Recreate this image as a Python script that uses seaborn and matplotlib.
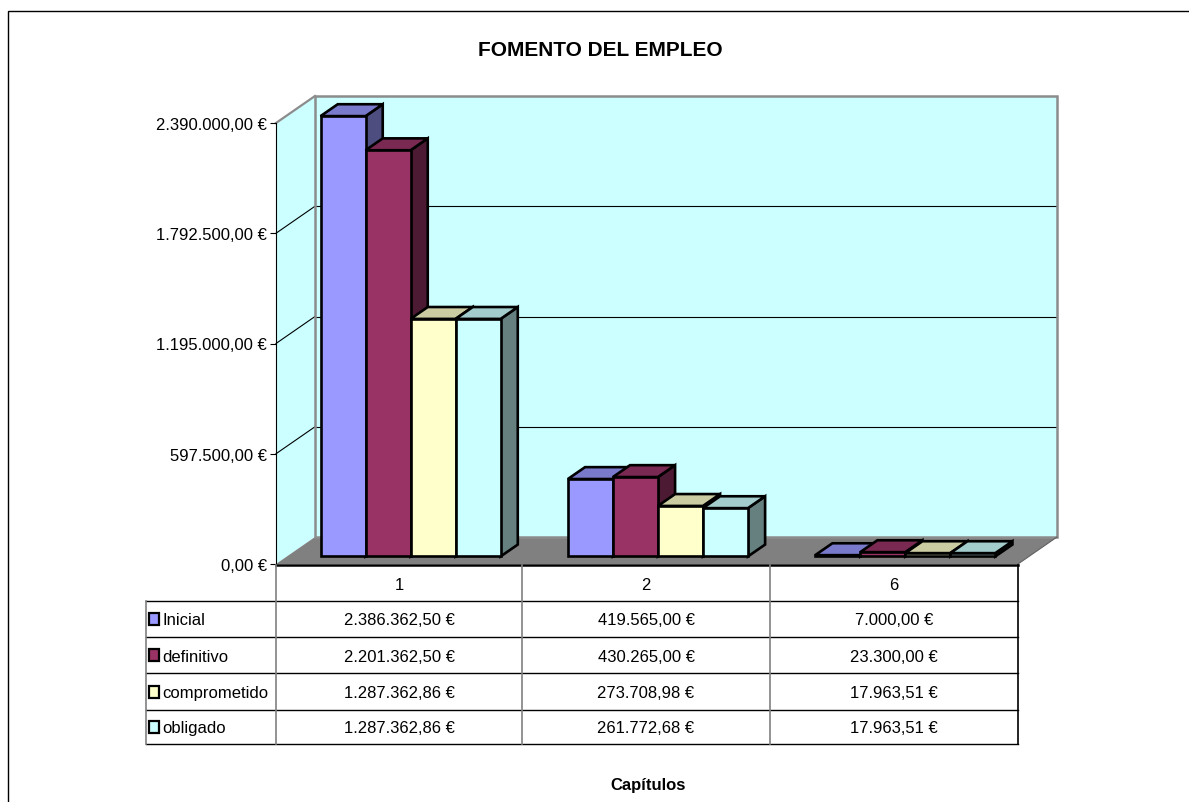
import numpy as np
import pandas as pd
import seaborn as sns
import matplotlib
matplotlib.use("Agg")
import matplotlib.pyplot as plt
from matplotlib import font_manager
from matplotlib.patches import Polygon, Rectangle
from matplotlib.lines import Line2D
from matplotlib.transforms import Affine2D, IdentityTransform

# --- data -------------------------------------------------------------
capitulos = ["1", "2", "6"]
series = ["Inicial", "definitivo", "comprometido", "obligado"]
inicial = [2386362.50, 419565.00, 7000.00]
definitivo = [2201362.50, 430265.00, 23300.00]
comprometido = [1287362.86, 273708.98, 17963.51]
obligado = [1287362.86, 261772.68, 17963.51]
y_ticks = [0, 597500, 1195000, 1792500, 2390000]
titulo = "FOMENTO DEL EMPLEO"
eje_x = "Capítulos"

colores = ["#9999FF", "#993366", "#FFFFCC", "#CCFFFF"]
valores = [inicial, definitivo, comprometido, obligado]


def euros(v):
    s = f"{v:,.2f}".replace(",", "X").replace(".", ",").replace("X", ".")
    return s + " €"


def shade(hex_color, f):
    r, g, b = matplotlib.colors.to_rgb(hex_color)
    return (r * f, g * f, b * f)


df = pd.DataFrame(
    [(c, s, v[i]) for s, v in zip(series, valores) for i, c in enumerate(capitulos)],
    columns=["capitulo", "serie", "importe"],
)

# --- fonts ------------------------------------------------------------
names = {f.name for f in font_manager.fontManager.ttflist}
narrow = "Liberation Sans Narrow" in names
plt.rcParams["font.family"] = (["Liberation Sans Narrow"] if narrow else []) + [
    "Liberation Sans", "DejaVu Sans"]
FS = 14 if narrow else 12
FS_T = 19 if narrow else 15
FS_X = 15 if narrow else 12

# --- figure -----------------------------------------------------------
W, H = 1189, 803
fig = plt.figure(figsize=(W / 100, H / 100), dpi=100)
fig.patch.set_facecolor("white")


def fx(x):
    return x / W


def fy(y):
    return 1 - y / H


# front plane of the plot box (pixels)
X0, X1, YB, YT = 276, 1018, 565, 124
ax = fig.add_axes([fx(X0), fy(YB), (X1 - X0) / W, (YB - YT) / H])
ax.patch.set_visible(False)

EDGE = 1.9
sns.barplot(
    data=df, x="capitulo", y="importe", hue="serie",
    order=capitulos, hue_order=series, palette=colores,
    width=0.728, gap=0, saturation=1, dodge=True,
    edgecolor="black", linewidth=EDGE, legend=False, ax=ax, errorbar=None,
)
bars = sorted(ax.patches, key=lambda p: p.get_x())

ax.set_xlim(-0.5, 2.5)
ax.set_ylim(0, y_ticks[-1])
ax.set_xlabel("")
ax.set_ylabel("")
ax.set_xticks([])
ax.set_yticks(y_ticks)
ax.set_yticklabels([euros(v) for v in y_ticks])
ax.tick_params(axis="y", direction="out", length=4.5, width=0.8, pad=2,
               labelsize=FS, color="black")
for side in ["top", "right", "bottom"]:
    ax.spines[side].set_visible(False)
ax.spines["left"].set_color("black")
ax.spines["left"].set_linewidth(0.8)

# depth vector of the 3D box, in display pixels
DX, DY = 39, 27
FRONT, BACK = 0.28, 0.72
ID = IdentityTransform()


def P(x, v, d):
    px, py = ax.transData.transform((x, v))
    return (px + d * DX, py + d * DY)


def poly(pts, fc, ec="none", lw=0.0, z=1):
    ax.add_patch(Polygon(pts, closed=True, facecolor=fc, edgecolor=ec,
                         linewidth=lw, transform=ID, clip_on=False, zorder=z,
                         joinstyle="miter"))


def line(p, q, color, lw, z):
    ax.add_line(Line2D([p[0], q[0]], [p[1], q[1]], color=color, linewidth=lw,
                       transform=ID, clip_on=False, zorder=z))


xl, xr = -0.5, 2.5
top = y_ticks[-1]
# walls and floor
poly([P(xl, 0, 0), P(xl, top, 0), P(xl, top, 1), P(xl, 0, 1)], "#CCFFFF", z=0.5)
poly([P(xl, 0, 1), P(xr, 0, 1), P(xr, top, 1), P(xl, top, 1)], "#CCFFFF", z=0.5)
poly([P(xl, 0, 0), P(xr, 0, 0), P(xr, 0, 1), P(xl, 0, 1)], "#808080", z=0.6)
for v in y_ticks[1:-1]:
    line(P(xl, v, 0), P(xl, v, 1), "black", 0.8, 0.8)
    line(P(xl, v, 1), P(xr, v, 1), "black", 0.8, 0.8)
line(P(xl, top, 0), P(xl, top, 1), "#8C8C8C", 1.6, 0.9)
poly([P(xl, 0, 1), P(xr, 0, 1), P(xr, top, 1), P(xl, top, 1)], "none",
     ec="#8C8C8C", lw=1.8, z=0.9)
line(P(xr, 0, 0), P(xr, 0, 1), "#606060", 0.8, 0.9)

# 3D bars: side, top and front faces, drawn left to right
for i, b in enumerate(bars):
    c = colores[i % len(series)]
    x0, w, h = b.get_x(), b.get_width(), b.get_height()
    z = 3 + 3 * i
    poly([P(x0 + w, 0, FRONT), P(x0 + w, 0, BACK), P(x0 + w, h, BACK), P(x0 + w, h, FRONT)],
         shade(c, 0.5), ec="black", lw=EDGE, z=z)
    poly([P(x0, h, FRONT), P(x0 + w, h, FRONT), P(x0 + w, h, BACK), P(x0, h, BACK)],
         shade(c, 0.8), ec="black", lw=EDGE, z=z + 1)
    b.set_transform(ax.transData + Affine2D().translate(FRONT * DX, FRONT * DY))
    b.set_clip_on(False)
    b.set_zorder(z + 2)
    b.set_joinstyle("miter")

# title and axis caption
fig.text(fx(600), fy(50), titulo, ha="center", va="center",
         fontsize=FS_T, fontweight="bold")
fig.text(fx(648), fy(786), eje_x, ha="center", va="center",
         fontsize=FS_X, fontweight="bold")

# outer frame
fig.add_artist(Rectangle((fx(8), fy(830)), (1300 - 8) / W, (830 - 12) / H,
                         fill=False, edgecolor="black", linewidth=1.0,
                         transform=fig.transFigure))


def fline(x1, y1, x2, y2, color="black", lw=1.0):
    fig.add_artist(Line2D([fx(x1), fx(x2)], [fy(y1), fy(y2)], color=color,
                          linewidth=lw, transform=fig.transFigure))


# data table
col_edges = [276, 522, 770, 1018]
row_edges = [566, 602, 638, 674, 711, 745]
LEG_X = 146
fline(col_edges[0], row_edges[0], col_edges[-1], row_edges[0], "black", 1.8)
for y in row_edges[1:]:
    fline(LEG_X, y, col_edges[-1], y, "black", 1.0)
for k, x in enumerate(col_edges):
    color = "black" if k == len(col_edges) - 1 else "#808080"
    fline(x, row_edges[0], x, row_edges[-1], color, 1.2)
fline(LEG_X, row_edges[1], LEG_X, row_edges[-1], "#808080", 1.2)

for j, cap in enumerate(capitulos):
    cx = (col_edges[j] + col_edges[j + 1]) / 2
    fig.text(fx(cx), fy((row_edges[0] + row_edges[1]) / 2 + 1), cap,
             ha="center", va="center", fontsize=FS)
    for r, vals in enumerate(valores):
        cy = (row_edges[r + 1] + row_edges[r + 2]) / 2 + 1
        fig.text(fx(cx), fy(cy), euros(vals[j]), ha="center", va="center",
                 fontsize=FS)

for r, (s, c) in enumerate(zip(series, colores)):
    cy = (row_edges[r + 1] + row_edges[r + 2]) / 2
    fig.add_artist(Rectangle((fx(149), fy(cy + 6)), 10 / W, 12 / H,
                             facecolor=c, edgecolor="black", linewidth=1.6,
                             transform=fig.transFigure))
    fig.text(fx(162), fy(cy + 1), s, ha="left", va="center", fontsize=FS)

fig.savefig("out.png", dpi=100, facecolor="white")
